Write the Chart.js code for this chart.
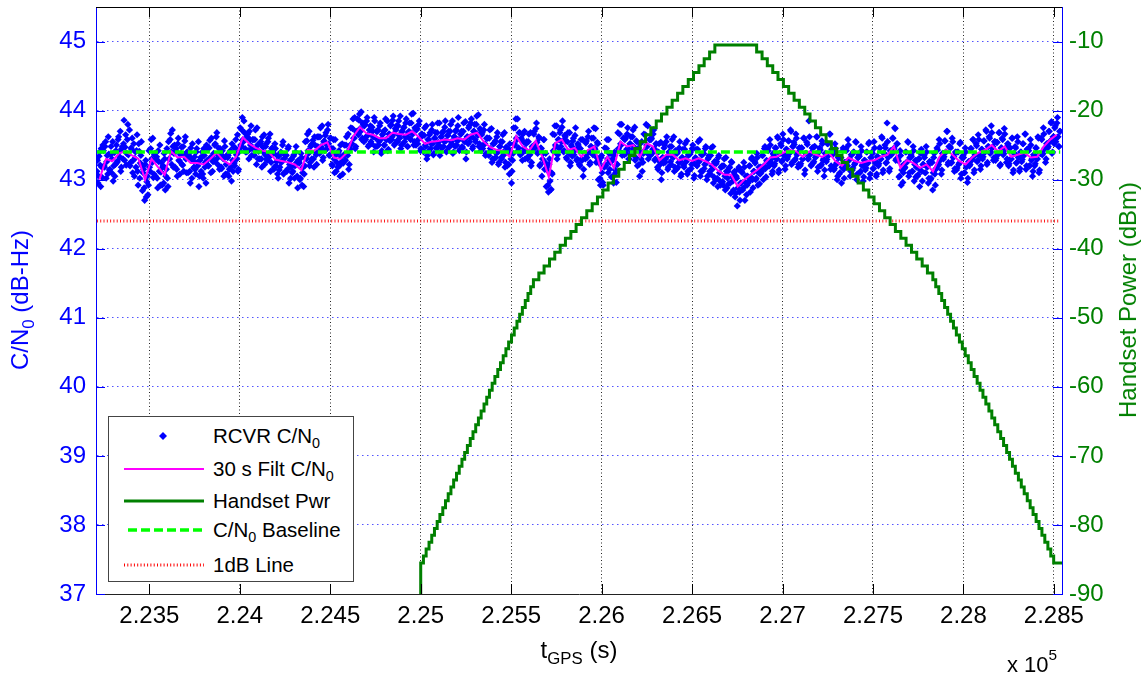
<!DOCTYPE html>
<html>
<head>
<meta charset="utf-8">
<title>C/N0 and Handset Power vs GPS time</title>
<script src="https://cdn.jsdelivr.net/npm/chart.js@4.4.1/dist/chart.umd.min.js"></script>
<style>
  body { margin: 0; background: #fff; }
  #wrap { position: relative; width: 1146px; height: 677px; overflow: hidden;
          font-family: 'Liberation Sans', Arial, Helvetica, sans-serif; }
  #c { position: absolute; left: 0; top: 0; }
  .lbl { position: absolute; white-space: nowrap; font-size: 24px; line-height: 1; }
  .center { transform: translate(-50%, -50%); }
  .rot { transform: translate(-50%, -50%) rotate(-90deg); }
  .lbl sub, .item sub { font-size: 0.7em; vertical-align: -0.35em; line-height: 0; }
  .lbl sup { font-size: 0.7em; vertical-align: 0.75em; line-height: 0; }
  #legend { position: absolute; left: 108px; top: 416px; width: 246px; height: 166px;
            box-sizing: border-box; border: 1px solid #444; background: #fff; }
  #legend svg { position: absolute; left: 0; top: 0; }
  .item { position: absolute; left: 104px; font-size: 20.5px; line-height: 24px; color: #000; white-space: nowrap; }
</style>
</head>
<body>
<div id="wrap">
  <canvas id="c" width="1146" height="677"></canvas>

  <div class="lbl rot" style="left:20px; top:300px; color:#0000ff;">C/N<sub>0</sub> (dB-Hz)</div>
  <div class="lbl rot" style="left:1128px; top:300px; color:#008000;">Handset Power (dBm)</div>
  <div class="lbl center" style="left:579px; top:650px; color:#000;">t<sub>GPS</sub> (s)</div>
  <div class="lbl" style="left:1007px; top:654px; font-size:22px; color:#000;">x 10<sup>5</sup></div>

  <div id="legend">
    <svg width="246" height="166">
      <path d="M54 15 L58 19 L54 23 L50 19 Z" fill="#0000ff"/>
      <line x1="15" y1="52" x2="95" y2="52" stroke="#ff00ff" stroke-width="2"/>
      <line x1="15" y1="84" x2="95" y2="84" stroke="#008000" stroke-width="3"/>
      <line x1="19" y1="113" x2="95" y2="113" stroke="#00ff00" stroke-width="3.5" stroke-dasharray="9 4"/>
      <line x1="15" y1="148" x2="95" y2="148" stroke="#ff0000" stroke-width="3" stroke-dasharray="1 2.3"/>
    </svg>
    <div class="item" style="top:7px">RCVR C/N<sub>0</sub></div>
    <div class="item" style="top:40px">30 s Filt C/N<sub>0</sub></div>
    <div class="item" style="top:72px">Handset Pwr</div>
    <div class="item" style="top:101px">C/N<sub>0</sub> Baseline</div>
    <div class="item" style="top:136px">1dB Line</div>
  </div>
</div>

<script>
/* ── DATA ─────────────────────────────────────────────────── */
const xMin = 223205;
const xMax = 228545;
const xTicks      = [223500, 224000, 224500, 225000, 225500, 226000, 226500, 227000, 227500, 228000, 228500];
const xTickLabels = ['2.235', '2.24', '2.245', '2.25', '2.255', '2.26', '2.265', '2.27', '2.275', '2.28', '2.285'];
const cnoTicks = [37, 38, 39, 40, 41, 42, 43, 44, 45];
const pwrTicks = [-90, -80, -70, -60, -50, -40, -30, -20, -10];

const baselineCno = 43.4;
const oneDbCno    = 42.4;

// receiver C/N0 samples, one every 6 s from cloudStart
const cloudStart = 223210;
const cloudStep  = 6;
const cloudCno = [
  43.12, 42.95, 43.34, 43.21, 43.45, 43.03,  43.42, 43.18, 43.55, 43.26, 43.08, 43.37,
  43.15, 43.48, 43.30, 42.98, 43.39, 43.22,  43.50, 43.27, 43.62, 43.33, 43.12, 43.45,
  43.30, 43.86, 43.47, 43.21, 43.58, 43.36,  43.72, 43.25, 43.44, 43.10, 43.52, 43.31,
  43.18, 43.65, 42.92, 43.41, 43.24, 43.55,  42.84, 43.15, 42.70, 43.28, 42.97, 42.78,
  43.42, 43.12, 43.58, 43.25, 43.03, 43.36,  43.05, 43.33, 42.88, 43.26, 43.50, 43.11,
  42.92, 43.20, 43.38, 42.85, 43.15, 43.02,  43.55, 43.30, 43.67, 43.22, 43.48, 43.38,
  43.18, 43.45, 43.05, 43.60, 43.27, 43.36,  43.47, 43.21, 43.12, 43.56, 43.30, 43.40,
  43.10, 43.38, 42.95, 43.30, 43.52, 43.17,  43.33, 43.08, 43.45, 43.20, 42.90, 43.28,
  43.12, 43.40, 43.02, 43.35, 43.25, 43.50,  43.44, 43.20, 43.57, 43.10, 43.33, 43.26,
  43.27, 43.52, 43.62, 43.31, 43.46, 43.15,  43.40, 43.16, 43.34, 43.05, 43.48, 43.22,
  43.08, 43.35, 43.15, 43.42, 42.98, 43.28,  43.47, 43.20, 43.58, 43.30, 43.12, 43.40,
  43.75, 43.48, 43.90, 43.55, 43.68, 43.40,  43.40, 43.66, 43.30, 43.58, 43.78, 43.45,
  43.58, 43.35, 43.72, 43.22, 43.50, 43.41,  43.30, 43.55, 43.18, 43.47, 43.65, 43.36,
  43.52, 43.28, 43.60, 43.33, 43.12, 43.45,  43.40, 43.15, 43.52, 43.20, 43.35, 43.02,
  43.14, 43.38, 43.25, 43.50, 43.08, 43.31,  43.36, 43.12, 43.45, 42.95, 43.28, 43.18,
  43.10, 43.34, 43.02, 43.40, 43.25, 42.88,  43.26, 43.00, 43.38, 42.92, 43.18, 43.08,
  43.55, 43.30, 43.66, 43.38, 43.20, 43.48,  43.30, 43.57, 43.18, 43.50, 43.36, 43.62,
  43.62, 43.38, 43.75, 43.45, 43.28, 43.55,  43.42, 43.68, 43.50, 43.80, 43.35, 43.60,
  43.45, 43.20, 43.58, 43.10, 43.36, 43.25,  43.18, 43.42, 43.05, 43.33, 43.52, 43.24,
  43.50, 43.28, 43.62, 43.35, 43.15, 43.44,  43.75, 43.52, 43.88, 43.60, 43.45, 43.70,
  43.88, 43.65, 43.95, 43.70, 43.58, 43.82,  43.55, 43.80, 43.62, 43.90, 43.48, 43.72,
  43.78, 43.52, 43.70, 43.40, 43.85, 43.60,  43.48, 43.72, 43.55, 43.82, 43.38, 43.65,
  43.70, 43.50, 43.88, 43.58, 43.42, 43.66,  43.56, 43.80, 43.62, 43.92, 43.50, 43.74,
  43.78, 43.55, 43.85, 43.60, 43.45, 43.70,  43.52, 43.76, 43.62, 43.88, 43.48, 43.68,
  43.82, 43.58, 43.95, 43.66, 43.50, 43.75,  43.50, 43.74, 43.58, 43.85, 43.42, 43.66,
  43.64, 43.40, 43.75, 43.48, 43.30, 43.58,  43.42, 43.68, 43.52, 43.80, 43.36, 43.60,
  43.68, 43.45, 43.82, 43.50, 43.35, 43.62,  43.46, 43.70, 43.55, 43.85, 43.40, 43.64,
  43.70, 43.48, 43.80, 43.52, 43.38, 43.62,  43.48, 43.72, 43.56, 43.90, 43.42, 43.66,
  43.70, 43.46, 43.82, 43.55, 43.30, 43.62,  43.52, 43.78, 43.62, 43.88, 43.45, 43.70,
  43.80, 43.55, 43.92, 43.64, 43.48, 43.74,  43.42, 43.68, 43.50, 43.80, 43.35, 43.60,
  43.60, 43.35, 43.72, 43.42, 43.25, 43.52,  43.30, 43.56, 43.38, 43.68, 43.22, 43.48,
  43.55, 43.30, 43.65, 43.36, 43.18, 43.47,  43.20, 43.45, 43.08, 43.38, 42.95, 43.28,
  43.75, 43.50, 43.88, 43.58, 43.42, 43.68,  43.36, 43.60, 43.28, 43.55, 43.70, 43.42,
  43.55, 43.30, 43.66, 43.36, 43.20, 43.48,  43.44, 43.70, 43.52, 43.82, 43.38, 43.62,
  43.20, 43.46, 43.05, 43.38, 43.58, 43.25,  42.90, 43.18, 42.82, 43.30, 42.85, 43.10,
  43.66, 43.40, 43.78, 43.48, 43.30, 43.58,  43.45, 43.72, 43.55, 43.85, 43.40, 43.64,
  43.56, 43.30, 43.68, 43.38, 43.20, 43.50,  43.34, 43.60, 43.42, 43.75, 43.28, 43.52,
  43.46, 43.20, 43.58, 43.28, 43.05, 43.38,  43.30, 43.56, 43.38, 43.70, 43.22, 43.48,
  43.60, 43.36, 43.75, 43.44, 43.25, 43.54,  43.00, 43.28, 42.92, 43.35, 42.96, 43.20,
  43.46, 43.20, 43.58, 43.10, 43.38, 43.25,  43.04, 43.30, 42.95, 43.40, 43.10, 43.22,
  43.68, 43.42, 43.80, 43.50, 43.35, 43.60,  43.36, 43.60, 43.44, 43.75, 43.30, 43.52,
  43.62, 43.38, 43.72, 43.45, 43.28, 43.56,  43.20, 43.46, 43.05, 43.38, 43.55, 43.25,
  43.66, 43.40, 43.80, 43.48, 43.30, 43.58,  43.35, 43.60, 43.44, 43.72, 43.28, 43.52,
  43.40, 43.15, 43.52, 43.22, 43.00, 43.32,  43.24, 43.50, 43.30, 43.62, 43.15, 43.40,
  43.48, 43.22, 43.58, 43.32, 43.12, 43.42,  43.15, 43.40, 43.25, 43.55, 43.05, 43.32,
  43.44, 43.18, 43.52, 43.26, 43.08, 43.36,  43.14, 43.40, 43.22, 43.50, 43.02, 43.30,
  43.44, 43.20, 43.55, 43.26, 43.05, 43.36,  43.12, 43.38, 43.22, 43.48, 43.00, 43.30,
  43.35, 43.08, 43.46, 43.15, 42.95, 43.26,  43.00, 43.26, 42.90, 43.35, 42.98, 43.18,
  43.20, 42.92, 43.30, 42.85, 43.12, 43.02,  42.94, 43.18, 42.80, 43.25, 42.98, 43.10,
  42.75, 43.05, 42.62, 43.15, 42.82, 42.95,  43.12, 42.85, 43.25, 42.70, 43.05, 42.92,
  42.95, 43.20, 42.82, 43.30, 43.00, 43.12,  43.26, 43.00, 43.38, 42.92, 43.18, 43.08,
  43.10, 43.35, 43.00, 43.45, 43.16, 43.28,  43.45, 43.20, 43.58, 43.25, 43.08, 43.38,
  43.20, 43.46, 43.30, 43.62, 43.10, 43.38,  43.52, 43.26, 43.66, 43.35, 43.15, 43.44,
  43.30, 43.56, 43.38, 43.72, 43.22, 43.48,  43.54, 43.28, 43.66, 43.36, 43.18, 43.46,
  43.20, 43.46, 43.30, 43.60, 43.08, 43.38,  43.54, 43.30, 43.85, 43.36, 43.20, 43.46,
  43.24, 43.48, 43.32, 43.62, 43.12, 43.40,  43.46, 43.20, 43.56, 43.28, 43.05, 43.38,
  43.26, 43.52, 43.35, 43.66, 43.15, 43.44,  43.40, 43.14, 43.52, 43.22, 43.00, 43.32,
  43.08, 43.32, 42.95, 43.42, 43.15, 43.25,  43.45, 43.20, 43.58, 43.28, 43.05, 43.36,
  43.14, 43.40, 43.22, 43.55, 43.00, 43.32,  43.36, 43.10, 43.48, 43.20, 42.98, 43.28,
  43.14, 43.40, 43.24, 43.52, 43.02, 43.32,  43.40, 43.16, 43.55, 43.24, 43.05, 43.34,
  43.20, 43.46, 43.30, 43.62, 43.10, 43.38,  43.50, 43.24, 43.82, 43.32, 43.12, 43.42,
  43.36, 43.60, 43.44, 43.75, 43.28, 43.52,  43.30, 43.04, 43.42, 42.92, 43.20, 43.10,
  43.16, 43.40, 43.25, 43.55, 43.05, 43.32,  43.36, 43.12, 43.48, 42.98, 43.28, 43.18,
  43.05, 43.30, 42.90, 43.38, 43.12, 43.22,  43.35, 43.10, 43.48, 43.18, 42.95, 43.26,
  43.00, 43.25, 42.85, 43.32, 43.08, 43.16,  43.46, 43.20, 43.58, 43.28, 43.08, 43.38,
  43.30, 43.56, 43.40, 43.70, 43.22, 43.48,  43.48, 43.24, 43.60, 43.32, 43.12, 43.40,
  43.14, 43.40, 43.22, 43.52, 43.02, 43.32,  43.35, 43.10, 43.46, 43.18, 42.96, 43.26,
  43.20, 43.45, 43.28, 43.58, 43.10, 43.36,  43.52, 43.26, 43.65, 43.35, 43.15, 43.44,
  43.30, 43.56, 43.40, 43.72, 43.22, 43.48,  43.62, 43.38, 43.78, 43.46, 43.28, 43.55,
  43.28, 43.54, 43.36, 43.68, 43.20, 43.46,  43.60, 43.36, 43.74, 43.44, 43.25, 43.52,
  43.20, 43.46, 43.30, 43.60, 43.10, 43.38,  43.48, 43.24, 43.62, 43.32, 43.12, 43.40,
  43.26, 43.52, 43.35, 43.66, 43.15, 43.44,  43.45, 43.20, 43.58, 43.28, 43.05, 43.36,
  43.20, 43.46, 43.30, 43.62, 43.10, 43.38,  43.60, 43.36, 43.75, 43.44, 43.25, 43.52,
  43.46, 43.70, 43.55, 43.82, 43.38, 43.62,  43.52, 43.78, 43.60, 43.90, 43.48, 43.70
];

// second receiver channel, interleaved 3 s after the first
const cloudStartB = 223213;
const cloudCnoB = [
  43.28, 43.05, 43.40, 42.90, 43.18, 43.50,  43.20, 43.48, 43.02, 43.35, 43.62, 43.14,
  43.36, 43.10, 43.55, 43.20, 43.05, 43.42,  43.25, 43.58, 43.40, 43.70, 43.18, 43.48,
  43.52, 43.28, 43.65, 43.38, 43.80, 43.22,  43.20, 43.46, 43.60, 43.28, 43.05, 43.40,
  43.42, 43.12, 43.52, 43.02, 43.35, 43.20,  43.10, 42.88, 43.22, 42.75, 43.05, 42.92,
  43.18, 43.45, 43.30, 43.60, 43.08, 43.38,  43.30, 43.02, 43.42, 43.12, 42.92, 43.25,
  43.18, 42.95, 43.30, 43.05, 43.45, 42.90,  43.30, 43.58, 43.40, 43.72, 43.18, 43.50,
  43.42, 43.15, 43.52, 43.28, 43.08, 43.38,  43.22, 43.48, 43.35, 43.62, 43.10, 43.40,
  43.35, 43.12, 43.46, 43.02, 43.28, 43.18,  43.15, 43.40, 43.25, 43.55, 43.05, 43.32,
  43.32, 43.08, 43.45, 43.18, 42.95, 43.28,  43.20, 43.46, 43.32, 43.60, 43.12, 43.38,
  43.50, 43.25, 43.68, 43.36, 43.20, 43.45,  43.18, 43.42, 43.30, 43.56, 43.08, 43.35,
  43.32, 43.05, 43.40, 43.18, 43.52, 43.12,  43.24, 43.46, 43.36, 43.65, 43.15, 43.42,
  43.50, 43.72, 43.58, 43.85, 43.45, 43.66,  43.62, 43.42, 43.70, 43.50, 43.35, 43.58,
  43.36, 43.58, 43.45, 43.75, 43.30, 43.52,  43.52, 43.30, 43.62, 43.40, 43.22, 43.48,
  43.30, 43.55, 43.38, 43.66, 43.25, 43.46,  43.38, 43.18, 43.45, 43.26, 43.08, 43.34,
  43.18, 43.40, 43.28, 43.55, 43.10, 43.35,  43.35, 43.15, 43.48, 43.22, 43.02, 43.30,
  43.12, 43.36, 43.20, 43.48, 43.05, 43.28,  43.24, 43.02, 43.32, 43.10, 42.90, 43.20,
  43.32, 43.56, 43.42, 43.70, 43.25, 43.50,  43.52, 43.30, 43.62, 43.40, 43.22, 43.48,
  43.40, 43.62, 43.48, 43.78, 43.32, 43.56,  43.64, 43.44, 43.72, 43.52, 43.36, 43.60,
  43.22, 43.45, 43.30, 43.58, 43.12, 43.38,  43.40, 43.20, 43.50, 43.26, 43.08, 43.36,
  43.28, 43.50, 43.38, 43.66, 43.22, 43.45,  43.52, 43.74, 43.60, 43.90, 43.48, 43.68,
  43.66, 43.86, 43.74, 43.98, 43.60, 43.80,  43.78, 43.58, 43.85, 43.64, 43.50, 43.72,
  43.55, 43.76, 43.62, 43.90, 43.48, 43.70,  43.70, 43.50, 43.78, 43.58, 43.42, 43.66,
  43.50, 43.72, 43.58, 43.85, 43.44, 43.66,  43.78, 43.58, 43.86, 43.66, 43.52, 43.72,
  43.56, 43.78, 43.64, 43.92, 43.50, 43.70,  43.75, 43.55, 43.82, 43.62, 43.48, 43.70,
  43.60, 43.82, 43.68, 43.96, 43.55, 43.75,  43.72, 43.52, 43.80, 43.60, 43.45, 43.66,
  43.42, 43.64, 43.50, 43.78, 43.35, 43.58,  43.65, 43.45, 43.72, 43.52, 43.38, 43.60,
  43.46, 43.68, 43.54, 43.82, 43.40, 43.62,  43.68, 43.48, 43.76, 43.56, 43.42, 43.64,
  43.47, 43.70, 43.55, 43.85, 43.40, 43.62,  43.70, 43.50, 43.78, 43.58, 43.44, 43.66,
  43.48, 43.70, 43.56, 43.84, 43.40, 43.62,  43.75, 43.55, 43.82, 43.62, 43.48, 43.70,
  43.58, 43.80, 43.66, 43.94, 43.52, 43.72,  43.65, 43.45, 43.72, 43.52, 43.38, 43.60,
  43.37, 43.60, 43.45, 43.74, 43.30, 43.52,  43.53, 43.32, 43.62, 43.40, 43.25, 43.48,
  43.32, 43.55, 43.40, 43.68, 43.25, 43.46,  43.43, 43.22, 43.52, 43.30, 43.12, 43.38,
  43.52, 43.75, 43.60, 43.88, 43.46, 43.68,  43.58, 43.38, 43.66, 43.45, 43.30, 43.52,
  43.32, 43.55, 43.40, 43.68, 43.25, 43.46,  43.66, 43.46, 43.74, 43.54, 43.40, 43.60,
  43.22, 43.45, 43.30, 43.58, 43.15, 43.38,  43.14, 42.92, 43.22, 42.98, 42.86, 43.08,
  43.42, 43.65, 43.50, 43.78, 43.36, 43.58,  43.68, 43.48, 43.76, 43.56, 43.42, 43.62,
  43.32, 43.55, 43.40, 43.68, 43.25, 43.48,  43.56, 43.36, 43.64, 43.44, 43.30, 43.50,
  43.22, 43.45, 43.30, 43.58, 43.15, 43.38,  43.53, 43.32, 43.62, 43.40, 43.25, 43.48,
  43.38, 43.60, 43.46, 43.74, 43.32, 43.52,  43.24, 43.02, 43.32, 43.10, 42.92, 43.18,
  43.22, 43.45, 43.30, 43.58, 43.15, 43.38,  43.27, 43.05, 43.35, 43.14, 42.96, 43.22,
  43.45, 43.66, 43.52, 43.80, 43.38, 43.60,  43.58, 43.38, 43.66, 43.45, 43.30, 43.52,
  43.40, 43.62, 43.48, 43.76, 43.32, 43.55,  43.43, 43.22, 43.52, 43.30, 43.12, 43.38,
  43.42, 43.65, 43.50, 43.78, 43.36, 43.58,  43.58, 43.38, 43.66, 43.45, 43.30, 43.52,
  43.18, 43.40, 43.26, 43.54, 43.10, 43.32,  43.46, 43.25, 43.55, 43.34, 43.18, 43.40,
  43.26, 43.48, 43.34, 43.62, 43.18, 43.40,  43.38, 43.18, 43.46, 43.26, 43.08, 43.32,
  43.21, 43.44, 43.30, 43.56, 43.12, 43.36,  43.37, 43.16, 43.45, 43.24, 43.06, 43.32,
  43.21, 43.44, 43.28, 43.58, 43.12, 43.36,  43.37, 43.16, 43.45, 43.24, 43.05, 43.32,
  43.12, 43.35, 43.20, 43.48, 43.04, 43.26,  43.23, 43.02, 43.32, 43.10, 42.92, 43.18,
  42.97, 43.20, 43.05, 43.32, 42.88, 43.12,  43.17, 42.95, 43.26, 43.04, 42.85, 43.12,
  42.80, 43.02, 42.88, 43.18, 42.70, 42.95,  43.10, 42.88, 43.18, 42.96, 42.78, 43.05,
  42.97, 43.20, 43.04, 43.32, 42.88, 43.12,  43.24, 43.02, 43.32, 43.10, 42.94, 43.18,
  43.12, 43.35, 43.20, 43.48, 43.04, 43.26,  43.42, 43.20, 43.50, 43.30, 43.12, 43.36,
  43.23, 43.46, 43.30, 43.60, 43.14, 43.38,  43.49, 43.28, 43.58, 43.36, 43.20, 43.44,
  43.33, 43.56, 43.40, 43.70, 43.25, 43.48,  43.51, 43.30, 43.60, 43.38, 43.22, 43.46,
  43.23, 43.46, 43.30, 43.60, 43.14, 43.38,  43.51, 43.30, 43.62, 43.38, 43.22, 43.46,
  43.26, 43.48, 43.34, 43.62, 43.18, 43.40,  43.43, 43.22, 43.52, 43.30, 43.14, 43.38,
  43.29, 43.52, 43.36, 43.66, 43.20, 43.44,  43.37, 43.16, 43.45, 43.24, 43.05, 43.32,
  43.10, 43.32, 43.18, 43.46, 43.02, 43.25,  43.42, 43.20, 43.50, 43.30, 43.12, 43.36,
  43.17, 43.40, 43.24, 43.54, 43.08, 43.32,  43.34, 43.12, 43.42, 43.22, 43.04, 43.28,
  43.17, 43.40, 43.24, 43.54, 43.08, 43.32,  43.38, 43.16, 43.46, 43.26, 43.08, 43.32,
  43.23, 43.46, 43.30, 43.60, 43.14, 43.38,  43.46, 43.25, 43.55, 43.34, 43.16, 43.40,
  43.38, 43.60, 43.46, 43.74, 43.30, 43.52,  43.27, 43.05, 43.35, 43.14, 42.96, 43.22,
  43.18, 43.40, 43.26, 43.54, 43.10, 43.32,  43.34, 43.12, 43.42, 43.22, 43.04, 43.28,
  43.07, 43.30, 43.14, 43.44, 42.98, 43.22,  43.32, 43.10, 43.40, 43.20, 43.02, 43.26,
  43.02, 43.25, 43.10, 43.38, 42.92, 43.16,  43.43, 43.22, 43.52, 43.30, 43.14, 43.38,
  43.33, 43.56, 43.40, 43.70, 43.25, 43.48,  43.46, 43.25, 43.55, 43.34, 43.16, 43.40,
  43.17, 43.40, 43.24, 43.54, 43.08, 43.32,  43.32, 43.10, 43.40, 43.20, 43.02, 43.26,
  43.22, 43.45, 43.30, 43.58, 43.14, 43.36,  43.49, 43.28, 43.58, 43.36, 43.20, 43.44,
  43.33, 43.56, 43.40, 43.70, 43.25, 43.48,  43.60, 43.40, 43.68, 43.48, 43.32, 43.55,
  43.31, 43.54, 43.38, 43.68, 43.22, 43.46,  43.58, 43.38, 43.66, 43.46, 43.30, 43.52,
  43.23, 43.46, 43.30, 43.60, 43.14, 43.38,  43.46, 43.25, 43.55, 43.34, 43.16, 43.40,
  43.29, 43.52, 43.36, 43.66, 43.20, 43.44,  43.42, 43.20, 43.50, 43.30, 43.12, 43.36,
  43.23, 43.46, 43.30, 43.60, 43.14, 43.38,  43.58, 43.38, 43.66, 43.46, 43.30, 43.52,
  43.48, 43.70, 43.56, 43.84, 43.40, 43.62,  43.75, 43.55, 43.82, 43.62, 43.48, 43.70
];

// 30 s filtered C/N0, one value every 36 s from filtStart
const filtStart = 223224;
const filtStep  = 36;
const filtCno = [
  43.00, 43.30, 43.27, 43.38, 43.41, 43.35, 43.30, 43.00, 43.30, 43.18,
  43.07, 43.41, 43.32, 43.33, 43.24, 43.24, 43.22, 43.30, 43.39, 43.28,
  43.22, 43.33, 43.61, 43.52, 43.46, 43.42, 43.40, 43.29, 43.27, 43.25,
  43.22, 43.14, 43.43, 43.42, 43.50, 43.54, 43.32, 43.30, 43.39, 43.63,
  43.76, 43.67, 43.65, 43.60, 43.60, 43.68, 43.66, 43.65, 43.70, 43.62,
  43.52, 43.55, 43.56, 43.58, 43.57, 43.60, 43.58, 43.65, 43.68, 43.55,
  43.47, 43.43, 43.42, 43.33, 43.63, 43.48, 43.42, 43.56, 43.33, 43.04,
  43.53, 43.58, 43.43, 43.46, 43.33, 43.43, 43.48, 43.14, 43.33, 43.17,
  43.55, 43.48, 43.50, 43.33, 43.53, 43.48, 43.28, 43.36, 43.36, 43.28,
  43.31, 43.27, 43.31, 43.27, 43.22, 43.13, 43.07, 43.07, 42.90, 43.00,
  43.07, 43.14, 43.22, 43.32, 43.33, 43.39, 43.43, 43.41, 43.33, 43.41,
  43.36, 43.33, 43.39, 43.27, 43.20, 43.32, 43.27, 43.24, 43.27, 43.28,
  43.33, 43.36, 43.48, 43.17, 43.28, 43.24, 43.17, 43.22, 43.12, 43.33,
  43.43, 43.36, 43.27, 43.22, 43.32, 43.39, 43.43, 43.50, 43.41, 43.48,
  43.33, 43.36, 43.39, 43.32, 43.33, 43.48, 43.58, 43.65
];

// handset transmit power: time a new level starts (s) and that level (dBm)
const pwrTime = [
  223210,
  225000, 225015, 225030, 225046, 225061, 225076, 225091, 225106, 225122, 225137,
  225152, 225167, 225182, 225198, 225213, 225228, 225243, 225258, 225274, 225289,
  225304, 225319, 225334, 225350, 225365, 225380, 225395, 225410, 225426, 225441,
  225456, 225471, 225486, 225502, 225517, 225532, 225547, 225562, 225578, 225593,
  225608, 225623,
  225653, 225682, 225712, 225741, 225771, 225800, 225830, 225859, 225889, 225918,
  225948, 225977, 226007, 226036, 226066, 226095, 226125, 226154, 226184, 226213,
  226243, 226272, 226302, 226331, 226361, 226390, 226420, 226449, 226479, 226508,
  226538, 226567, 226597, 226626,
  226857, 226887, 226916, 226946, 226975, 227005, 227034, 227064, 227093, 227123,
  227152, 227182, 227211, 227241, 227270, 227300, 227329, 227359, 227388, 227418,
  227447, 227477, 227506, 227536, 227565, 227595, 227624, 227654, 227683, 227713,
  227742, 227772, 227801, 227831,
  227847, 227864, 227880, 227896, 227913, 227929, 227945, 227961, 227978, 227994,
  228010, 228027, 228043, 228059, 228076, 228092, 228108, 228124, 228141, 228157,
  228173, 228190, 228206, 228222, 228239, 228255, 228271, 228287, 228304, 228320,
  228336, 228353, 228369, 228385, 228402, 228418, 228434, 228450, 228467, 228483,
  228499,
  228545
];
const pwrDbm = [
  -120,
  -85.5, -84.5, -83.5, -82.5, -81.5, -80.5, -79.5, -78.5, -77.5, -76.5,
  -75.5, -74.5, -73.5, -72.5, -71.5, -70.5, -69.5, -68.5, -67.5, -66.5,
  -65.5, -64.5, -63.5, -62.5, -61.5, -60.5, -59.5, -58.5, -57.5, -56.5,
  -55.5, -54.5, -53.5, -52.5, -51.5, -50.5, -49.5, -48.5, -47.5, -46.5,
  -45.5, -44.5,
  -43.5, -42.5, -41.5, -40.5, -39.5, -38.5, -37.5, -36.5, -35.5, -34.5,
  -33.5, -32.5, -31.5, -30.5, -29.5, -28.5, -27.5, -26.5, -25.5, -24.5,
  -23.5, -22.5, -21.5, -20.5, -19.5, -18.5, -17.5, -16.5, -15.5, -14.5,
  -13.5, -12.5, -11.5, -10.5,
  -11.5, -12.5, -13.5, -14.5, -15.5, -16.5, -17.5, -18.5, -19.5, -20.5,
  -21.5, -22.5, -23.5, -24.5, -25.5, -26.5, -27.5, -28.5, -29.5, -30.5,
  -31.5, -32.5, -33.5, -34.5, -35.5, -36.5, -37.5, -38.5, -39.5, -40.5,
  -41.5, -42.5, -43.5, -44.5,
  -45.5, -46.5, -47.5, -48.5, -49.5, -50.5, -51.5, -52.5, -53.5, -54.5,
  -55.5, -56.5, -57.5, -58.5, -59.5, -60.5, -61.5, -62.5, -63.5, -64.5,
  -65.5, -66.5, -67.5, -68.5, -69.5, -70.5, -71.5, -72.5, -73.5, -74.5,
  -75.5, -76.5, -77.5, -78.5, -79.5, -80.5, -81.5, -82.5, -83.5, -84.5,
  -85.5,
  -85.5
];

/* ── POINTS ───────────────────────────────────────────────── */
const cloudPoints = cloudCno.map((v, i) => ({ x: cloudStart + i * cloudStep, y: v }))
  .concat(cloudCnoB.map((v, i) => ({ x: cloudStartB + i * cloudStep, y: v })));
const filtPoints  = filtCno.map((v, i) => ({ x: filtStart + i * filtStep, y: v }));
const pwrPoints   = pwrTime.map((t, i) => ({ x: t, y: pwrDbm[i] }));
const tFirst = cloudStart;
const tLast  = cloudStartB + (cloudCnoB.length - 1) * cloudStep;

/* ── MATLAB STYLE INWARD TICKS + TOP FRAME ────────────────── */
const matlabFrame = {
  id: 'matlabFrame',
  afterDraw(chart) {
    const { ctx, chartArea: a, scales } = chart;
    ctx.save();
    ctx.lineWidth = 1;
    ctx.strokeStyle = '#000';
    ctx.beginPath();
    ctx.moveTo(a.left, a.top + 0.5);
    ctx.lineTo(a.right, a.top + 0.5);
    xTicks.forEach(v => {
      const x = Math.round(scales.x.getPixelForValue(v)) + 0.5;
      ctx.moveTo(x, a.bottom); ctx.lineTo(x, a.bottom - 10);
      ctx.moveTo(x, a.top);    ctx.lineTo(x, a.top + 10);
    });
    ctx.stroke();

    ctx.strokeStyle = '#0000ff';
    ctx.beginPath();
    cnoTicks.forEach(v => {
      const y = Math.round(scales.y.getPixelForValue(v)) + 0.5;
      ctx.moveTo(a.left, y); ctx.lineTo(a.left + 9, y);
    });
    pwrTicks.forEach(v => {
      const y = Math.round(scales.y2.getPixelForValue(v)) + 0.5;
      ctx.moveTo(a.right, y); ctx.lineTo(a.right - 9, y);
    });
    ctx.stroke();
    ctx.restore();
  }
};

/* ── CHART ────────────────────────────────────────────────── */
const tickFont = { family: "'Liberation Sans', Arial, Helvetica, sans-serif", size: 24 };

new Chart(document.getElementById('c'), {
  type: 'scatter',
  data: {
    datasets: [
      {
        label      : 'Handset Pwr',
        type       : 'line',
        data       : pwrPoints,
        yAxisID    : 'y2',
        borderColor: '#008000',
        borderWidth: 3,
        stepped    : 'before',
        pointRadius: 0,
        fill       : false,
      },
      {
        label      : 'C/N0 Baseline',
        type       : 'line',
        data       : [{ x: tFirst, y: baselineCno }, { x: tLast, y: baselineCno }],
        borderColor: '#00ff00',
        borderWidth: 3.5,
        borderDash : [9, 4],
        pointRadius: 0,
      },
      {
        label      : '1dB Line',
        type       : 'line',
        data       : [{ x: tFirst, y: oneDbCno }, { x: tLast, y: oneDbCno }],
        borderColor: '#ff1a1a',
        borderWidth: 3,
        borderDash : [1, 2.3],
        pointRadius: 0,
      },
      {
        label      : '30 s Filt C/N0',
        type       : 'line',
        data       : filtPoints,
        borderColor: '#ff00ff',
        borderWidth: 2,
        pointRadius: 0,
        tension    : 0,
      },
      {
        label          : 'RCVR C/N0',
        data           : cloudPoints,
        backgroundColor: '#0000ff',
        borderWidth    : 0,
        pointStyle     : 'rectRot',
        pointRadius    : 3.6,
      }
    ]
  },
  options: {
    responsive: false,
    animation : false,
    events    : [],
    layout    : { padding: { top: 7, left: 0, right: 0, bottom: 0 } },
    plugins   : { legend: { display: false }, tooltip: { enabled: false } },
    scales: {
      x: {
        type: 'linear',
        min : xMin,
        max : xMax,
        afterBuildTicks: s => { s.ticks = xTicks.map(v => ({ value: v })); },
        afterFit: s => { s.height = 83; s.paddingLeft = 0; s.paddingRight = 0; },
        ticks : { autoSkip: false, maxRotation: 0, padding: 8, color: '#000', font: tickFont,
                  callback: v => xTickLabels[xTicks.indexOf(v)] },
        grid  : { color: 'rgba(0,0,0,0.85)', lineWidth: 1, drawTicks: false },
        border: { color: '#222', width: 1, dash: [1, 2.5] },
      },
      y: {
        type    : 'linear',
        position: 'left',
        min     : 37,
        max     : 45.5,
        afterBuildTicks: s => { s.ticks = cnoTicks.map(v => ({ value: v })); },
        afterFit: s => { s.width = 96; s.paddingTop = 0; s.paddingBottom = 0; },
        ticks : { padding: 10, color: '#0000ff', font: tickFont },
        grid  : { color: 'rgba(40,40,255,0.8)', lineWidth: 1, drawTicks: false },
        border: { color: '#0000ff', width: 1, dash: [1.5, 3.5] },
      },
      y2: {
        type    : 'linear',
        position: 'right',
        min     : -90,
        max     : -5,
        afterBuildTicks: s => { s.ticks = pwrTicks.map(v => ({ value: v })); },
        afterFit: s => { s.width = 84; s.paddingTop = 0; s.paddingBottom = 0; },
        ticks : { padding: 7, color: '#008000', font: tickFont },
        grid  : { drawOnChartArea: false, drawTicks: false },
        border: { color: '#0000ff', width: 1 },
      }
    }
  },
  plugins: [matlabFrame]
});
</script>
</body>
</html>
